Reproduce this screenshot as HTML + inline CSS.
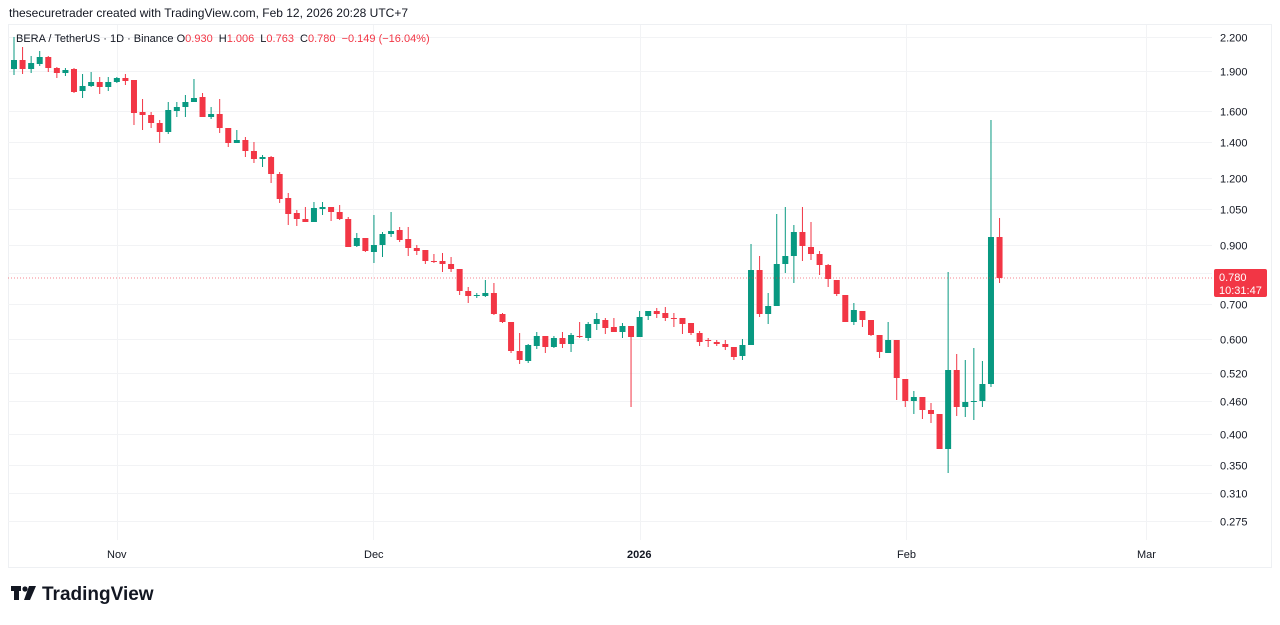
<!DOCTYPE html>
<html><head><meta charset="utf-8"><style>
body{margin:0;background:#fff;width:1280px;height:620px;overflow:hidden;font-family:"Liberation Sans",sans-serif}
</style></head><body>
<svg id="s" width="1280" height="620" xmlns="http://www.w3.org/2000/svg" font-family="Liberation Sans, sans-serif">
<rect width="1280" height="620" fill="#fff"/>
<text x="9" y="17" font-size="12" fill="#131722">thesecuretrader created with TradingView.com, Feb 12, 2026 20:28 UTC+7</text>
<rect x="8.5" y="24.5" width="1263" height="543" fill="none" stroke="#eef0f3"/>
<g id="grid"></g>
<g id="candles"></g>
<line x1="8" y1="278" x2="1212" y2="278" stroke="#f23645" stroke-width="1" stroke-dasharray="1 2" opacity="0.6"/>
<text x="16" y="42" font-size="11" fill="#131722">BERA / TetherUS · 1D · Binance <tspan>O</tspan><tspan fill="#f23645">0.930</tspan> <tspan dx="3">H</tspan><tspan fill="#f23645">1.006</tspan> <tspan dx="3">L</tspan><tspan fill="#f23645">0.763</tspan> <tspan dx="3">C</tspan><tspan fill="#f23645">0.780</tspan> <tspan fill="#f23645" dx="3">−0.149 (−16.04%)</tspan></text>
<g id="ax" font-size="11" fill="#131722"></g>
<rect x="1214" y="269" width="53" height="28" rx="2" fill="#f23645"/>
<text x="1219" y="281" font-size="11" fill="#fff">0.780</text>
<text x="1219" y="294" font-size="11" fill="#fff">10:31:47</text>
<g font-size="11" fill="#131722">
<text x="107" y="558">Nov</text><text x="364" y="558">Dec</text><text x="627" y="558" font-weight="bold">2026</text><text x="897" y="558">Feb</text><text x="1137" y="558">Mar</text>
</g>
<g fill="#131722">
<rect x="11" y="586" width="10" height="5"/><rect x="14" y="586" width="5" height="14"/>
<circle cx="25" cy="589" r="2.6"/><polygon points="29,586 36,586 30,600 24,600"/>
<text x="42" y="600" font-size="19" font-weight="bold">TradingView</text>
</g>
</svg>
<script>
const NS="http://www.w3.org/2000/svg";
function el(p,t,a){const e=document.createElementNS(NS,t);for(const k in a)e.setAttribute(k,a[k]);p.appendChild(e);return e;}
const Y=p=>37+232.8*Math.log(2.2/p);
const grid=document.getElementById('grid'),ax=document.getElementById('ax');
[2.2,1.9,1.6,1.4,1.2,1.05,0.9,0.8,0.7,0.6,0.52,0.46,0.4,0.35,0.31,0.275].forEach(p=>{
 const y=Math.round(Y(p))+0.5;
 el(grid,'line',{x1:8,x2:1212,y1:y,y2:y,stroke:'#f2f3f5'});
 if(p!=0.8){const t=el(ax,'text',{x:1220,y:y+4});t.textContent=p.toFixed(3);}
});
[117,373,640,906,1146].forEach(x=>el(grid,'line',{x1:x+.5,x2:x+.5,y1:25,y2:540,stroke:'#f2f3f5'}));
// [open_y, close_y, high_y, low_y]
const D=[[69,60,37,75],[60,69,47,74],[69,63,56,73],[64,57,51,66],[57,68,56,72],[68,73,67,78],[73,70,68,76],[69,92,68,93],[91,86,74,98],[86,82,72,87],[82,87,77,94],[87,82,77,91],[82,78,77,83],[78,81,74,85],[80,113,80,125],[112,115,99,130],[115,123,112,128],[123,132,120,143],[132,110,102,134],[111,107,102,117],[107,102,95,117],[102,98,79,102],[97,117,93,117],[117,114,107,119],[114,128,99,133],[128,143,128,147],[143,140,130,143],[140,151,137,157],[151,159,142,163],[159,157,155,167],[157,174,156,183],[174,199,172,203],[198,214,193,225],[213,219,210,226],[219,222,207,222],[222,208,202,222],[209,207,202,215],[207,212,207,221],[212,219,205,220],[219,247,217,247],[246,238,233,247],[238,251,238,252],[252,245,215,263],[245,234,232,257],[234,231,212,237],[230,240,227,242],[239,248,227,256],[248,251,245,255],[250,261,250,264],[261,262,254,263],[261,264,253,272],[264,269,257,272],[269,291,269,295],[291,296,287,303],[296,295,293,298],[296,293,280,297],[293,314,283,315],[314,322,313,323],[322,351,322,353],[351,360,333,364],[361,345,344,363],[346,336,332,349],[336,347,336,353],[347,338,336,348],[338,344,332,348],[344,335,333,352],[336,337,322,338],[338,324,322,341],[324,319,313,330],[320,328,318,334],[327,332,318,332],[332,326,323,338],[326,337,326,407],[337,317,311,337],[316,311,311,320],[311,314,308,318],[313,318,307,321],[318,319,313,327],[318,324,318,334],[323,333,323,335],[333,342,331,346],[340,341,338,347],[342,344,340,346],[344,347,340,350],[347,357,347,360],[356,345,339,360],[345,270,244,345],[270,314,256,317],[314,306,293,324],[306,264,214,306],[264,256,207,273],[256,232,225,283],[232,246,207,261],[247,254,222,260],[254,265,251,275],[265,279,264,287],[280,294,280,296],[295,322,295,322],[322,310,303,325],[311,320,311,327],[320,335,320,336],[335,352,335,358],[353,340,322,353],[340,378,340,400],[379,401,379,407],[401,397,391,414],[397,410,397,419],[410,414,403,423],[414,449,414,449],[449,370,272,473],[370,407,354,416],[407,402,360,417],[402,401,348,420],[401,384,361,407],[384,237,120,387],[237,278,218,283]];
const g=document.getElementById('candles');
D.forEach((d,i)=>{
 const x=14+i*8.57,[o,c,h,l]=d,up=c<o,col=up?'#089981':'#f23645';
 el(g,'line',{x1:x,x2:x,y1:h,y2:l,stroke:col,'stroke-width':1});
 const t=Math.min(o,c),b=Math.max(o,c);
 el(g,'rect',{x:x-3,y:t,width:6,height:Math.max(1,b-t),fill:col});
});
</script>
</body></html>
